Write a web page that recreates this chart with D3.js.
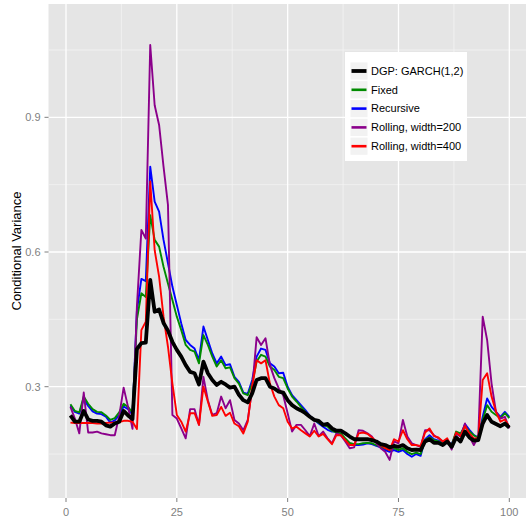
<!DOCTYPE html>
<html>
<head>
<meta charset="utf-8">
<script src="https://cdn.jsdelivr.net/npm/d3@7"></script>
<style>
  body { margin: 0; background: #fff; }
  svg { display: block; font-family: "Liberation Sans", Arial, sans-serif; }
</style>
</head>
<body>
<div id="chart"></div>
<script>
// forecast index 1..100
var steps = d3.range(1, 101);

var dgp = [0.236,0.222,0.222,0.246,0.227,0.224,0.224,0.222,0.214,0.211,
  0.218,0.222,0.246,0.236,0.228,0.384,0.397,0.398,0.538,0.467,
  0.472,0.442,0.425,0.400,0.382,0.367,0.348,0.333,0.330,0.305,
  0.356,0.330,0.315,0.304,0.311,0.305,0.298,0.300,0.282,0.270,
  0.265,0.285,0.315,0.319,0.319,0.300,0.296,0.289,0.287,0.270,
  0.259,0.252,0.247,0.241,0.233,0.226,0.224,0.215,0.217,0.207,
  0.202,0.202,0.196,0.189,0.183,0.183,0.183,0.183,0.181,0.178,
  0.172,0.170,0.165,0.168,0.166,0.170,0.163,0.159,0.160,0.159,
  0.178,0.183,0.175,0.175,0.170,0.178,0.166,0.187,0.178,0.200,
  0.187,0.180,0.181,0.218,0.237,0.222,0.217,0.212,0.218,0.209];

var fixed = [0.261,0.246,0.243,0.278,0.262,0.250,0.244,0.243,0.236,0.226,
  0.230,0.243,0.262,0.255,0.242,0.450,0.508,0.500,0.682,0.627,
  0.612,0.567,0.530,0.493,0.456,0.426,0.393,0.382,0.378,0.352,
  0.415,0.393,0.367,0.345,0.359,0.341,0.343,0.319,0.307,0.285,
  0.281,0.307,0.356,0.371,0.367,0.345,0.337,0.322,0.319,0.296,
  0.278,0.267,0.255,0.244,0.233,0.227,0.220,0.215,0.211,0.202,
  0.198,0.196,0.185,0.175,0.172,0.172,0.174,0.175,0.174,0.170,
  0.166,0.163,0.159,0.163,0.159,0.163,0.155,0.150,0.153,0.150,
  0.181,0.187,0.181,0.178,0.174,0.175,0.170,0.200,0.196,0.212,
  0.200,0.192,0.185,0.226,0.259,0.244,0.237,0.230,0.241,0.230];

var recursive = [0.258,0.244,0.240,0.273,0.257,0.245,0.240,0.239,0.233,0.220,
  0.225,0.237,0.256,0.250,0.238,0.470,0.540,0.535,0.790,0.712,
  0.690,0.627,0.575,0.523,0.482,0.441,0.404,0.393,0.385,0.359,
  0.434,0.404,0.374,0.352,0.367,0.348,0.350,0.322,0.311,0.287,
  0.284,0.315,0.367,0.385,0.382,0.352,0.345,0.330,0.331,0.300,
  0.281,0.270,0.259,0.248,0.235,0.227,0.218,0.211,0.204,0.200,
  0.200,0.192,0.183,0.172,0.170,0.170,0.171,0.174,0.172,0.168,
  0.165,0.159,0.155,0.159,0.155,0.159,0.150,0.144,0.150,0.146,
  0.183,0.192,0.183,0.180,0.176,0.178,0.172,0.196,0.190,0.217,
  0.204,0.192,0.187,0.233,0.274,0.255,0.244,0.233,0.244,0.233];

var rolling200 = [0.255,0.229,0.196,0.287,0.198,0.198,0.200,0.196,0.194,0.192,
  0.192,0.235,0.298,0.255,0.206,0.480,0.649,0.630,1.061,0.927,
  0.883,0.790,0.705,0.237,0.229,0.207,0.185,0.250,0.250,0.215,
  0.322,0.270,0.237,0.241,0.278,0.252,0.270,0.226,0.218,0.203,
  0.226,0.296,0.410,0.393,0.408,0.348,0.319,0.296,0.281,0.241,
  0.200,0.215,0.215,0.203,0.190,0.218,0.190,0.200,0.185,0.174,
  0.196,0.192,0.178,0.163,0.165,0.203,0.202,0.196,0.189,0.174,
  0.163,0.155,0.137,0.178,0.174,0.226,0.189,0.174,0.170,0.166,
  0.203,0.203,0.192,0.185,0.178,0.181,0.160,0.196,0.189,0.218,
  0.189,0.170,0.189,0.456,0.404,0.307,0.244,0.229,0.233,0.207];

var rolling400 = [0.220,0.219,0.219,0.219,0.219,0.219,0.218,0.218,0.219,0.220,
  0.220,0.221,0.224,0.224,0.222,0.206,0.426,0.445,0.757,0.604,
  0.545,0.456,0.389,0.307,0.237,0.222,0.200,0.241,0.241,0.215,
  0.300,0.267,0.235,0.237,0.255,0.235,0.242,0.218,0.212,0.196,
  0.222,0.300,0.359,0.352,0.359,0.307,0.278,0.259,0.252,0.222,
  0.207,0.211,0.203,0.196,0.189,0.202,0.189,0.195,0.183,0.172,
  0.192,0.192,0.181,0.170,0.170,0.196,0.198,0.195,0.187,0.178,
  0.170,0.163,0.159,0.183,0.178,0.203,0.183,0.170,0.170,0.168,
  0.198,0.207,0.190,0.187,0.178,0.185,0.166,0.198,0.190,0.212,
  0.196,0.185,0.185,0.315,0.330,0.278,0.244,0.222,0.227,0.211];

var seriesNames = ['DGP: GARCH(1,2)', 'Fixed', 'Recursive', 'Rolling, width=200', 'Rolling, width=400'];
var seriesValues = [dgp, fixed, recursive, rolling200, rolling400];
var seriesColors = ['#000000', '#008B00', '#0000FF', '#8B008B', '#FF0000'];
var xTicks = [0, 25, 50, 75, 100];
var yTicks = [0.3, 0.6, 0.9];
var yMinor = [0.15, 0.45, 0.75, 1.05];
var xMinor = [12.5, 37.5, 62.5, 87.5];

var width = 526, height = 521;
var panel = { left: 48.5, top: 4, bottom: 498 };

var svg = d3.select('#chart').append('svg')
  .attr('width', width)
  .attr('height', height);

var x = d3.scaleLinear().domain([-3.95, 104.95]).range([panel.left, 66 + 104.95 * 4.433]);
var y = d3.scaleLinear().domain([0.0521, 1.1524]).range([panel.bottom, panel.top]);

svg.append('clipPath').attr('id', 'panel-clip')
  .append('rect')
  .attr('x', panel.left).attr('y', panel.top)
  .attr('width', width - panel.left).attr('height', panel.bottom - panel.top);

// panel background
svg.append('rect')
  .attr('x', panel.left).attr('y', panel.top)
  .attr('width', width - panel.left).attr('height', panel.bottom - panel.top)
  .attr('fill', '#E5E5E5');

var grid = svg.append('g').attr('clip-path', 'url(#panel-clip)');

grid.selectAll('.y-minor').data(yMinor).enter().append('line')
  .attr('x1', panel.left).attr('x2', width)
  .attr('y1', d => y(d)).attr('y2', d => y(d))
  .attr('stroke', '#F2F2F2').attr('stroke-width', 0.8);
grid.selectAll('.x-minor').data(xMinor).enter().append('line')
  .attr('y1', panel.top).attr('y2', panel.bottom)
  .attr('x1', d => x(d)).attr('x2', d => x(d))
  .attr('stroke', '#F2F2F2').attr('stroke-width', 0.8);
grid.selectAll('.y-major').data(yTicks).enter().append('line')
  .attr('x1', panel.left).attr('x2', width)
  .attr('y1', d => y(d)).attr('y2', d => y(d))
  .attr('stroke', '#FFFFFF').attr('stroke-width', 1.3);
grid.selectAll('.x-major').data(xTicks).enter().append('line')
  .attr('y1', panel.top).attr('y2', panel.bottom)
  .attr('x1', d => x(d)).attr('x2', d => x(d))
  .attr('stroke', '#FFFFFF').attr('stroke-width', 1.3);

// lines: coloured first, DGP on top
var line = d3.line()
  .x((d, i) => x(steps[i]))
  .y(d => y(d));

var drawOrder = [2, 1, 3, 4, 0];
var lines = svg.append('g').attr('clip-path', 'url(#panel-clip)');
drawOrder.forEach(function (k) {
  lines.append('path')
    .datum(seriesValues[k])
    .attr('d', line)
    .attr('fill', 'none')
    .attr('stroke', seriesColors[k])
    .attr('stroke-width', k === 0 ? 3.8 : 1.9)
    .attr('stroke-linejoin', 'round');
});

// axes
var xAxis = svg.append('g');
xAxis.selectAll('line').data(xTicks).enter().append('line')
  .attr('x1', d => x(d)).attr('x2', d => x(d))
  .attr('y1', panel.bottom).attr('y2', panel.bottom + 4)
  .attr('stroke', '#7F7F7F');
xAxis.selectAll('text').data(xTicks).enter().append('text')
  .attr('x', d => x(d)).attr('y', 512)
  .attr('dy', '0.35em')
  .attr('text-anchor', 'middle')
  .attr('font-size', 11)
  .attr('fill', '#7F7F7F')
  .text(d => d);

var yAxis = svg.append('g');
yAxis.selectAll('line').data(yTicks).enter().append('line')
  .attr('x1', panel.left - 4).attr('x2', panel.left)
  .attr('y1', d => y(d)).attr('y2', d => y(d))
  .attr('stroke', '#7F7F7F');
yAxis.selectAll('text').data(yTicks).enter().append('text')
  .attr('x', panel.left - 8).attr('y', d => y(d))
  .attr('dy', '0.35em')
  .attr('text-anchor', 'end')
  .attr('font-size', 11)
  .attr('fill', '#7F7F7F')
  .text(d => d3.format('.1f')(d));

svg.append('text')
  .attr('transform', 'translate(21,' + ((panel.top + panel.bottom) / 2) + ') rotate(-90)')
  .attr('text-anchor', 'middle')
  .attr('font-size', 13)
  .attr('fill', '#000')
  .text('Conditional Variance');

// legend
var legend = svg.append('g').attr('transform', 'translate(345,52)');
legend.append('rect')
  .attr('width', 122).attr('height', 109)
  .attr('fill', '#FFFFFF');
var rows = legend.selectAll('.row').data(seriesNames).enter().append('g')
  .attr('transform', (d, i) => 'translate(0,' + (19 + i * 18.8) + ')');
rows.append('rect')
  .attr('x', 5.5).attr('y', -8.6)
  .attr('width', 17).attr('height', 17.2)
  .attr('fill', '#F2F2F2');
rows.append('line')
  .attr('x1', 6.5).attr('x2', 21.5)
  .attr('stroke', (d, i) => seriesColors[i])
  .attr('stroke-width', (d, i) => i === 0 ? 3.8 : 2.6);
rows.append('text')
  .attr('x', 26).attr('dy', '0.35em')
  .attr('font-size', 11)
  .attr('fill', '#000')
  .text(d => d);
</script>
</body>
</html>
